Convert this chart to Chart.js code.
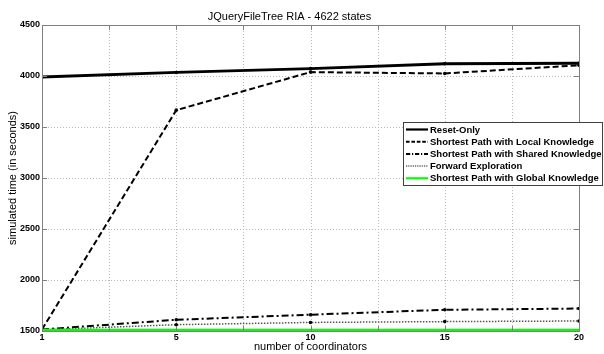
<!DOCTYPE html>
<html>
<head>
<meta charset="utf-8">
<script src="https://cdn.jsdelivr.net/npm/chart.js@4.4.0/dist/chart.umd.min.js"></script>
<style>
  html, body { margin: 0; padding: 0; background: #fff; }
  #wrap { width: 604px; height: 354px; position: relative; }
</style>
</head>
<body>
<div id="wrap"><canvas id="c" width="604" height="354"></canvas></div>
<script>
// ---- data ----
const xLabels = ["1", "5", "10", "15", "20"];
const seriesNames = [
  "Reset-Only",
  "Shortest Path with Local Knowledge",
  "Shortest Path with Shared Knowledge",
  "Forward Exploration",
  "Shortest Path with Global Knowledge"
];
const resetOnly   = [3990, 4035, 4072, 4120, 4125];
const localKnow   = [1515, 3665, 4038, 4025, 4105];
const sharedKnow  = [1515, 1610, 1660, 1708, 1720];
const forwardExp  = [1512, 1562, 1584, 1592, 1598];
const globalKnow  = [1510, 1510, 1510, 1510, 1510];
const yTicks = [1500, 2000, 2500, 3000, 3500, 4000, 4500];
const chartTitle = "JQueryFileTree RIA - 4622 states";
const xTitle = "number of coordinators";
const yTitle = "simulated time (in seconds)";

const FONT = "'Liberation Sans', Arial, sans-serif";
const styles = [
  { color: '#000000', width: 2.8, dash: [], r: 1.8 },
  { color: '#000000', width: 2, dash: [6, 3], r: 1.8 },
  { color: '#000000', width: 2, dash: [7, 3, 2, 3], r: 1.8 },
  { color: '#555555', width: 1.5, dash: [1.5, 1.5], r: 1.8 },
  { color: '#00ff00', width: 2.6, dash: [], r: 0 }
];
const allSeries = [resetOnly, localKnow, sharedKnow, forwardExp, globalKnow];

const datasets = allSeries.map((arr, i) => ({
  label: seriesNames[i],
  data: arr.map((v, k) => ({ x: k, y: v })),
  borderColor: styles[i].color,
  backgroundColor: '#000000',
  borderWidth: styles[i].width,
  borderDash: styles[i].dash,
  pointRadius: styles[i].r,
  pointBorderWidth: 0,
  pointBackgroundColor: '#000000',
  tension: 0,
  fill: false,
  order: 5 - i
}));

const gridPlugin = {
  id: 'gridPlugin',
  beforeDatasetsDraw(chart) {
    const { ctx, chartArea: a, scales } = chart;
    ctx.save();
    ctx.strokeStyle = '#b8b8b8';
    ctx.lineWidth = 1;
    ctx.setLineDash([1, 2]);
    scales.y.ticks.forEach(t => {
      const y = Math.round(scales.y.getPixelForValue(t.value)) + 0.5;
      ctx.beginPath(); ctx.moveTo(a.left, y); ctx.lineTo(a.right, y); ctx.stroke();
    });
    scales.x.ticks.forEach(t => {
      const x = Math.round(scales.x.getPixelForValue(t.value)) + 0.5;
      ctx.beginPath(); ctx.moveTo(x, a.top); ctx.lineTo(x, a.bottom); ctx.stroke();
    });
    ctx.restore();
  }
};

const boxPlugin = {
  id: 'boxPlugin',
  afterDraw(chart) {
    const { ctx, chartArea: a, scales } = chart;
    ctx.save();
    ctx.strokeStyle = '#808080';
    ctx.lineWidth = 1;
    ctx.setLineDash([]);
    ctx.strokeRect(Math.round(a.left) + 0.5, Math.round(a.top) + 0.5,
                   Math.round(a.right - a.left), Math.round(a.bottom - a.top));
    // inward tick marks
    const tl = 5;
    scales.y.ticks.forEach(t => {
      const y = Math.round(scales.y.getPixelForValue(t.value)) + 0.5;
      ctx.beginPath();
      ctx.moveTo(a.left, y); ctx.lineTo(a.left + tl, y);
      ctx.moveTo(a.right, y); ctx.lineTo(a.right - tl, y);
      ctx.stroke();
    });
    scales.x.ticks.forEach(t => {
      const x = Math.round(scales.x.getPixelForValue(t.value)) + 0.5;
      ctx.beginPath();
      ctx.moveTo(x, a.bottom); ctx.lineTo(x, a.bottom - tl);
      ctx.moveTo(x, a.top); ctx.lineTo(x, a.top + tl);
      ctx.stroke();
    });
    // legend
    const lx = 403, ly = 122, lw = 200, lh = 64;
    ctx.fillStyle = '#ffffff';
    ctx.fillRect(lx, ly, lw, lh);
    ctx.strokeStyle = '#404040';
    ctx.strokeRect(lx + 0.5, ly + 0.5, lw - 1, lh - 1);
    ctx.font = 'bold 9.5px ' + FONT;
    ctx.textBaseline = 'middle';
    ctx.textAlign = 'left';
    chart.data.datasets.forEach((ds, i) => {
      const yy = ly + 7.5 + i * 12.2;
      ctx.save();
      ctx.strokeStyle = ds.borderColor;
      ctx.lineWidth = Math.min(ds.borderWidth, 2.2);
      ctx.setLineDash(ds.borderDash.length ? ds.borderDash.map(d => d * 0.6) : []);
      ctx.beginPath();
      ctx.moveTo(lx + 3, yy); ctx.lineTo(lx + 25, yy);
      ctx.stroke();
      ctx.restore();
      ctx.fillStyle = '#000000';
      ctx.fillText(ds.label, lx + 27, yy + 0.5);
    });
    ctx.restore();
  }
};

new Chart(document.getElementById('c'), {
  type: 'line',
  data: { datasets },
  options: {
    responsive: false,
    animation: false,
    devicePixelRatio: 1,
    layout: { padding: { left: 0, right: 25, top: 0, bottom: 0 } },
    plugins: {
      legend: { display: false },
      tooltip: { enabled: false },
      title: {
        display: true,
        text: chartTitle,
        color: '#000',
        font: { family: FONT, size: 11, weight: 'normal', lineHeight: 1.2 },
        padding: { top: 10, bottom: 1.8 }
      }
    },
    scales: {
      x: {
        type: 'linear',
        min: 0, max: 4,
        afterBuildTicks(scale) {
          const t = [];
          for (let v = 0; v <= 4.0001; v += 0.5) t.push({ value: v });
          scale.ticks = t;
        },
        afterFit(scale) { scale.height = 23; },
        ticks: {
          autoSkip: false,
          maxRotation: 0,
          padding: 1,
          color: '#000',
          font: { family: FONT, size: 9, weight: 'bold' },
          callback: (v) => Number.isInteger(v) ? xLabels[v] : ''
        },
        grid: { display: false, drawTicks: false },
        border: { display: false },
        title: {
          display: true,
          text: xTitle,
          color: '#000',
          font: { family: FONT, size: 11, weight: 'normal', lineHeight: 1.2 },
          padding: { top: 0, bottom: 0 }
        }
      },
      y: {
        type: 'linear',
        min: 1500, max: 4500,
        afterBuildTicks(scale) { scale.ticks = yTicks.map(v => ({ value: v })); },
        afterFit(scale) { scale.width = 42; },
        ticks: {
          padding: 2,
          color: '#000',
          font: { family: FONT, size: 9, weight: 'bold' },
          callback: (v) => String(v)
        },
        grid: { display: false, drawTicks: false },
        border: { display: false },
        title: {
          display: true,
          text: yTitle,
          color: '#000',
          font: { family: FONT, size: 11, weight: 'normal', lineHeight: 1.2 },
          padding: { top: 6, bottom: 0 }
        }
      }
    }
  },
  plugins: [gridPlugin, boxPlugin]
});
</script>
</body>
</html>
